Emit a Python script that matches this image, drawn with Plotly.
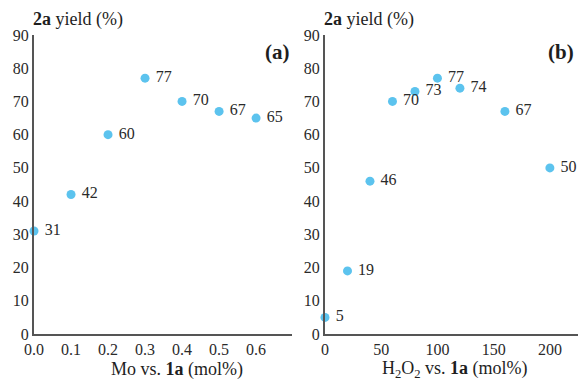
import plotly.graph_objects as go

# Panel (a): Mo loading
mo_x = [0.0, 0.1, 0.2, 0.3, 0.4, 0.5, 0.6]
mo_y = [31, 42, 60, 77, 70, 67, 65]

# Panel (b): H2O2 loading
h2o2_x = [0, 20, 40, 60, 80, 100, 120, 160, 200]
h2o2_y = [5, 19, 46, 70, 73, 77, 74, 67, 50]

y_ticks = [0, 10, 20, 30, 40, 50, 60, 70, 80, 90]
a_ticks = [0.0, 0.1, 0.2, 0.3, 0.4, 0.5, 0.6]
a_ticklabels = ["0.0", "0.1", "0.2", "0.3", "0.4", "0.5", "0.6"]
b_ticks = [0, 50, 100, 150, 200]

FONT = "Liberation Serif, DejaVu Serif, serif"
MARK = "#5cc3ee"
AX = "#555555"
TXT = "#2a2a2a"
W, H = 578, 380
PAD = "\u00a0"

fig = go.Figure()
fig.add_trace(go.Scatter(
    x=mo_x, y=mo_y, mode="markers+text", text=[PAD + str(v) for v in mo_y],
    textposition="middle right", textfont=dict(family=FONT, size=16, color=TXT),
    marker=dict(color=MARK, size=9), xaxis="x", yaxis="y", showlegend=False,
    cliponaxis=False, hoverinfo="skip"))
fig.add_trace(go.Scatter(
    x=h2o2_x, y=h2o2_y, mode="markers+text", text=[PAD + str(v) for v in h2o2_y],
    textposition="middle right", textfont=dict(family=FONT, size=16, color=TXT),
    marker=dict(color=MARK, size=9), xaxis="x2", yaxis="y2", showlegend=False,
    cliponaxis=False, hoverinfo="skip"))

ydom = [1 - 334 / H, 1 - 35 / H]
common_y = dict(range=[0, 90], tickvals=y_ticks, showgrid=False, zeroline=False,
                showline=True, linecolor=AX, linewidth=2, ticks="", automargin=False,
                tickfont=dict(family=FONT, size=16, color=TXT), domain=ydom)
common_x = dict(showgrid=False, zeroline=False, showline=True, linecolor=AX, linewidth=2,
                ticks="", automargin=False, tickfont=dict(family=FONT, size=16, color=TXT))

fig.update_layout(
    width=W, height=H, margin=dict(l=0, r=0, t=0, b=0, autoexpand=False),
    paper_bgcolor="white", plot_bgcolor="white",
    font=dict(family=FONT, color=TXT),
    xaxis=dict(**common_x, domain=[34 / W, 292 / W], range=[0, 0.697],
               tickvals=a_ticks, ticktext=a_ticklabels, anchor="y"),
    yaxis=dict(**common_y, anchor="x"),
    xaxis2=dict(**common_x, domain=[325 / W, 1.0], range=[0, 225],
                tickvals=b_ticks, anchor="y2"),
    yaxis2=dict(**common_y, anchor="x2"),
)

ann = [
    dict(text="<b>2a</b> yield (%)", x=31 / W, y=1 - 19 / H, xanchor="left", size=18),
    dict(text="<b>2a</b> yield (%)", x=322 / W, y=1 - 19 / H, xanchor="left", size=18),
    dict(text="<b>(a)</b>", x=277 / W, y=1 - 52 / H, xanchor="center", size=21),
    dict(text="<b>(b)</b>", x=561 / W, y=1 - 52 / H, xanchor="center", size=21),
    dict(text="Mo vs. <b>1a</b> (mol%)", x=177 / W, y=1 - 369 / H, xanchor="center", size=18),
    dict(text="H<sub>2</sub>O<sub>2</sub> vs. <b>1a</b> (mol%)", x=455 / W, y=1 - 369 / H,
         xanchor="center", size=18),
]
for a in ann:
    fig.add_annotation(text=a["text"], x=a["x"], y=a["y"], xref="paper", yref="paper",
                       xanchor=a["xanchor"], yanchor="middle", showarrow=False,
                       font=dict(family=FONT, size=a["size"], color="#1e1e1e"))

fig.write_html("out.html", config={"displayModeBar": False, "staticPlot": True},
               post_script="document.body.style.margin='0';document.body.style.overflow='hidden';")
